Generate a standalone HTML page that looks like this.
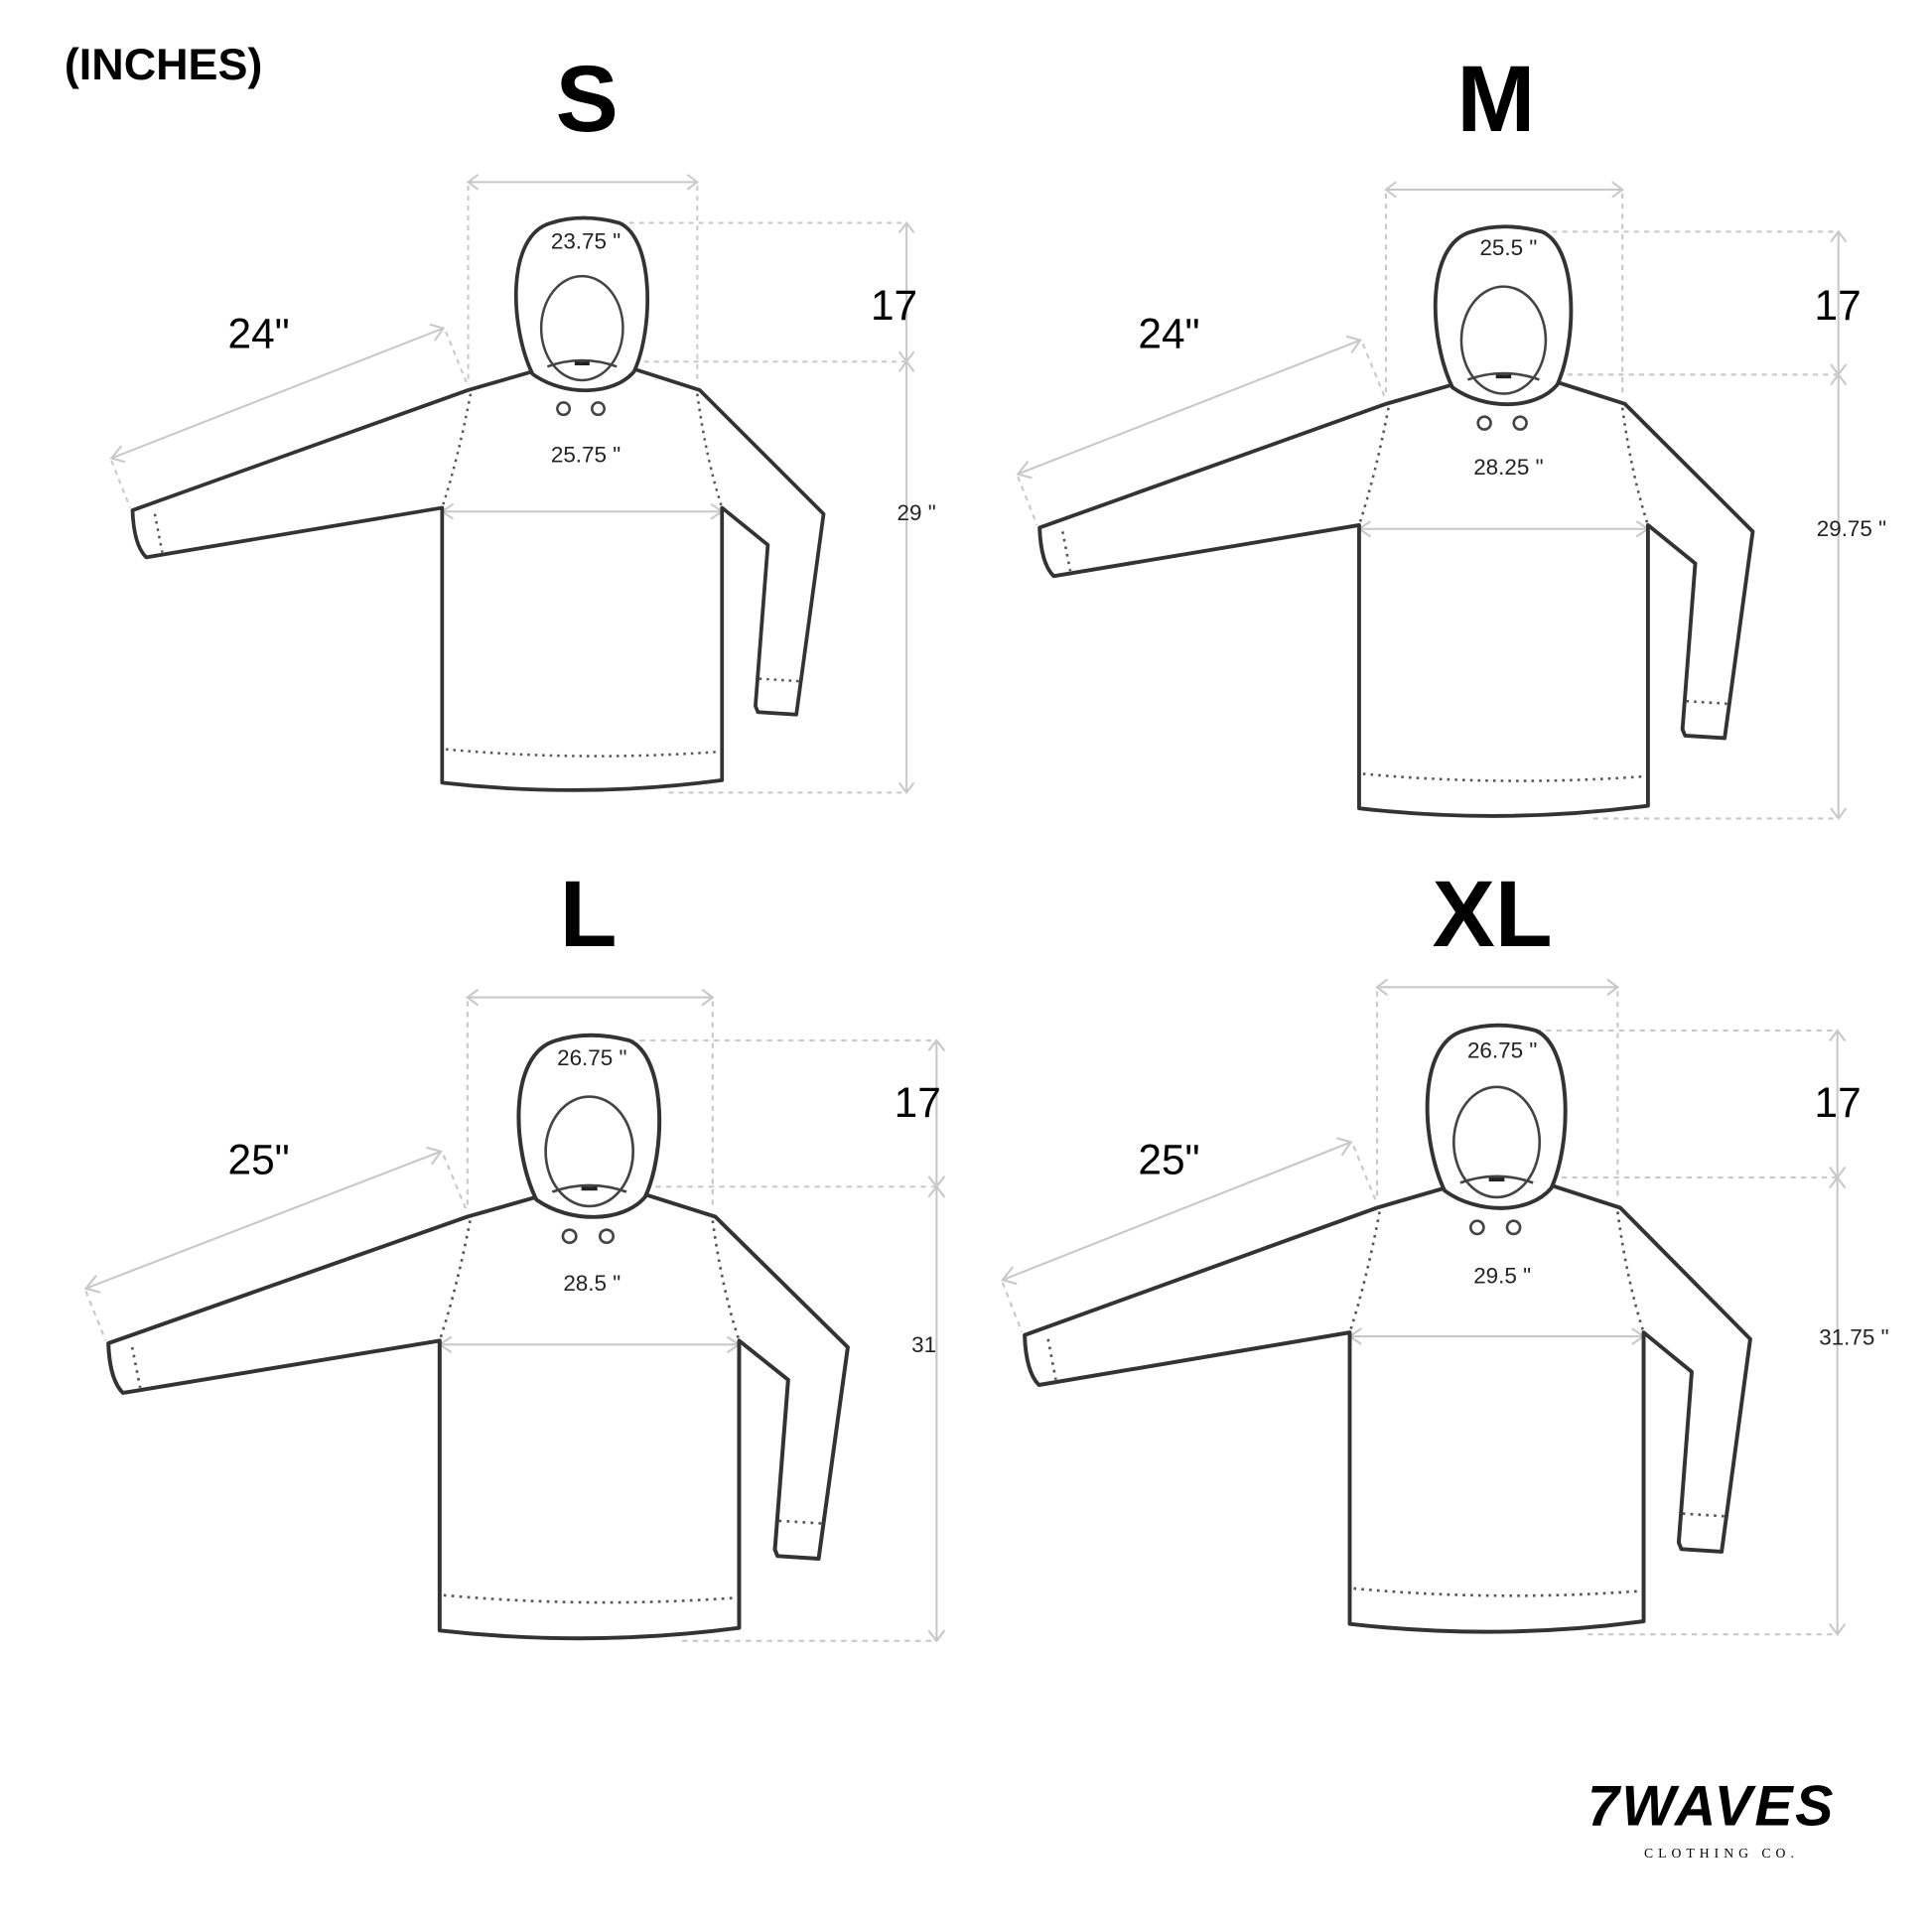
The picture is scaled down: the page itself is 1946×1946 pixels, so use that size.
<!DOCTYPE html>
<html><head><meta charset="utf-8"><style>
html,body{margin:0;padding:0;background:#fff;}
svg{display:block;}
</style></head><body>
<svg width="1946" height="1946" viewBox="0 0 1560 1560" xmlns="http://www.w3.org/2000/svg">
<defs>
<g id="h">
  <g stroke="#c8c8c8" stroke-width="1.6" fill="none">
    <line x1="378" y1="147" x2="563" y2="147"/>
    <polyline points="386,141 378,147 386,153"/><polyline points="555,141 563,147 555,153"/>
    <line x1="378" y1="150" x2="378" y2="310" stroke-dasharray="4 4"/>
    <line x1="563" y1="150" x2="563" y2="310" stroke-dasharray="4 4"/>
    <line x1="500" y1="180" x2="732" y2="180" stroke-dasharray="4 4"/>
    <line x1="520" y1="292" x2="732" y2="292" stroke-dasharray="4 4"/>
    <line x1="540" y1="640" x2="732" y2="640" stroke-dasharray="4 4"/>
    <line x1="732" y1="180" x2="732" y2="640"/>
    <polyline points="726,188 732,180 738,188"/><polyline points="726,284 732,292 738,284"/>
    <polyline points="726,300 732,292 738,300"/><polyline points="726,632 732,640 738,632"/>
    <line x1="90" y1="370" x2="358" y2="265"/>
    <polyline points="98,360 90,370 101,373"/><polyline points="347,262 358,265 351,275"/>
    <line x1="90" y1="372" x2="105" y2="410" stroke-dasharray="4 4"/>
    <line x1="360" y1="268" x2="378" y2="312" stroke-dasharray="4 4"/>
    <line x1="357" y1="413" x2="583" y2="413"/>
    <polyline points="366,407 357,413 366,419"/><polyline points="574,407 583,413 574,419"/>
  </g>
  <g stroke="#333" stroke-width="3" fill="none" stroke-linejoin="round">
    <path d="M430,300 L378,315 L107,412 Q108,440 118,450 L357,410 L357,632 Q470,645 583,630 L583,410 L620,440 L610,570 L612,575 L643,577 L665,415 L565,315 L512,298"/>
    <path d="M430,302 C412,265 408,190 445,180 Q470,172 500,180 C528,192 528,265 512,300 C495,320 455,320 430,302 Z"/>
  </g>
  <g stroke="#444" stroke-width="2" fill="none">
    <ellipse cx="470" cy="265" rx="33" ry="42"/>
    <path d="M442,296 Q470,286 498,296"/>
    <circle cx="455" cy="330" r="5"/><circle cx="483" cy="330" r="5"/>
  </g>
  <g stroke="#555" stroke-width="2" fill="none" stroke-dasharray="2 4">
    <path d="M380,318 Q370,370 357,410"/>
    <path d="M563,318 Q570,370 583,410"/>
    <path d="M360,605 Q470,615 580,607"/>
    <line x1="125" y1="415" x2="131" y2="446"/>
    <line x1="613" y1="548" x2="645" y2="550"/>
  </g>
  <rect x="464" y="292" width="12" height="3" fill="#222"/>
</g>
</defs>
<rect width="1560" height="1560" fill="#fff"/>
<use href="#h"/>
<use href="#h" transform="translate(729,1.7) scale(1.032,1.03)"/>
<use href="#h" transform="translate(-27,650.4) scale(1.07,1.054)"/>
<use href="#h" transform="translate(715,641.3) scale(1.05,1.06)"/>
<g font-family="Liberation Sans, sans-serif" fill="#000">
  <text x="52" y="64" font-size="36" font-weight="bold">(INCHES)</text>
  <text x="474" y="106" font-size="76" font-weight="bold" text-anchor="middle">S</text>
  <text x="1208" y="106" font-size="76" font-weight="bold" text-anchor="middle">M</text>
  <text x="475" y="764" font-size="76" font-weight="bold" text-anchor="middle">L</text>
  <text x="1205" y="764" font-size="76" font-weight="bold" text-anchor="middle">XL</text>
  <g font-size="34">
    <text x="184" y="281">24"</text><text x="919" y="281">24"</text>
    <text x="184" y="948">25"</text><text x="919" y="948">25"</text>
    <text x="703" y="258">17</text><text x="1465" y="258">17</text>
    <text x="722" y="902">17</text><text x="1465" y="902">17</text>
  </g>
  <g font-size="18" fill="#222">
    <text x="473" y="201" text-anchor="middle">23.75 "</text>
    <text x="473" y="373" text-anchor="middle">25.75 "</text>
    <text x="740" y="420" text-anchor="middle">29 "</text>
    <text x="1218" y="206" text-anchor="middle">25.5 "</text>
    <text x="1218" y="383" text-anchor="middle">28.25 "</text>
    <text x="1495" y="433" text-anchor="middle">29.75 "</text>
    <text x="478" y="860" text-anchor="middle">26.75 "</text>
    <text x="478" y="1042" text-anchor="middle">28.5 "</text>
    <text x="746" y="1092" text-anchor="middle">31</text>
    <text x="1213" y="854" text-anchor="middle">26.75 "</text>
    <text x="1213" y="1036" text-anchor="middle">29.5 "</text>
    <text x="1497" y="1086" text-anchor="middle">31.75 "</text>
  </g>
  <text x="1382" y="1474" font-size="46" font-weight="bold" font-style="italic" text-anchor="middle" letter-spacing="2">7WAVES</text>
  <text x="1390" y="1500" font-size="11" text-anchor="middle" letter-spacing="4" font-family="Liberation Serif, serif">CLOTHING CO.</text>
</g>
</svg>
</body></html>
